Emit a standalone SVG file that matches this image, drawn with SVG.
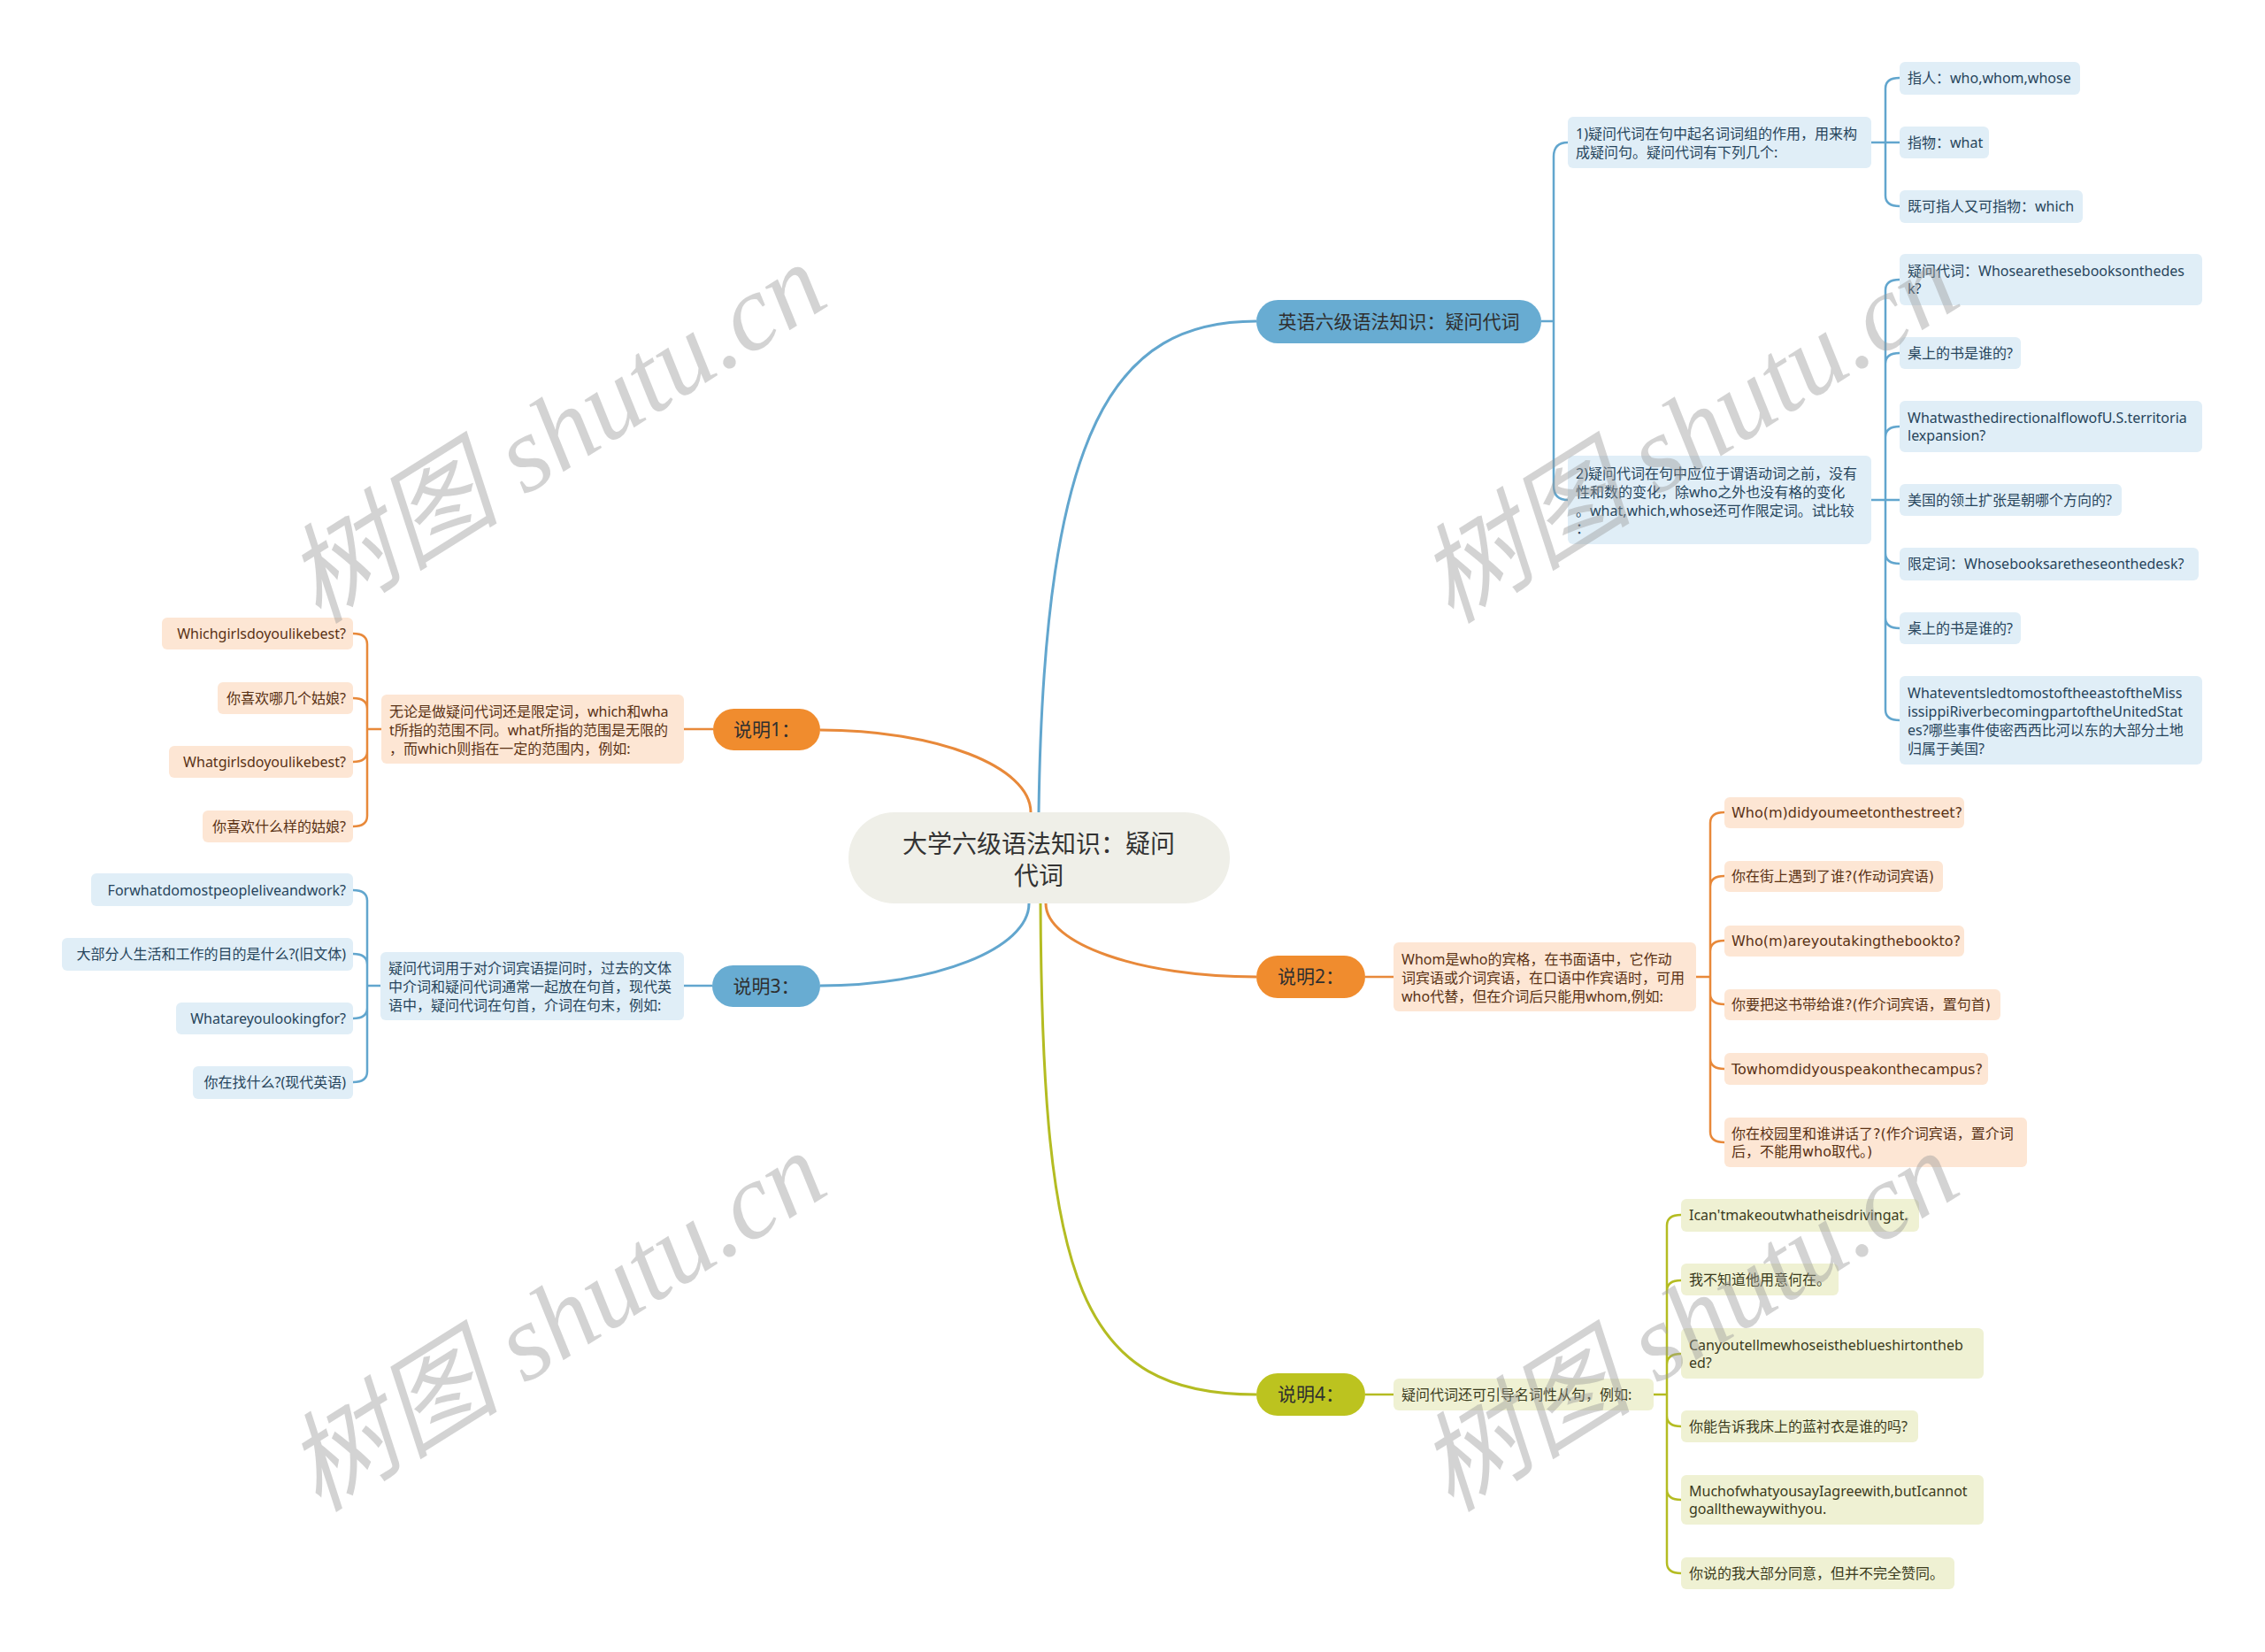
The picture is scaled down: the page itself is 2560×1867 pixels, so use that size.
<svg xmlns="http://www.w3.org/2000/svg" width="2560" height="1867" viewBox="0 0 2560 1867">
<style>
text{font-family:"Noto Sans","Noto Sans CJK SC",sans-serif;font-size:16px}
.bb{fill:#e0eef7}.ob{fill:#fde6d4}.gb{fill:#eff1d3}
.tb{fill:#27455c}.to{fill:#5a3214}.tg{fill:#3b3b1c}
.dv{font-family:"DejaVu Sans","Noto Sans CJK SC",sans-serif}
.end{text-anchor:end}
.nt{font-size:21px;fill:#2f2f2f;text-anchor:middle}
.cb{fill:none;stroke:#62a6ce;stroke-width:2.5}
.co{fill:none;stroke:#e8893a;stroke-width:2.5}
.cg{fill:none;stroke:#b4bc22;stroke-width:2.5}
.main{stroke-width:3}
.wm{font-family:"Liberation Serif","Noto Sans CJK SC",serif;font-style:italic;font-size:122px;fill:#999;opacity:.42}
</style>
<rect width="2560" height="1867" fill="#fff"/>
<g id="connectors">
<path class="cb main" d="M1174,918 C1180,480 1260,363 1420,363"/>
<path class="co main" d="M1165,918 C1165,866 1058,825 927,825"/>
<path class="co main" d="M1182,1021 C1182,1067 1289,1104 1420,1104"/>
<path class="cb main" d="M1163,1021 C1163,1072 1057,1114 927,1114"/>
<path class="cg main" d="M1176,1021 C1178,1450 1220,1576 1420,1576"/>
<path class="cb" d="M1742,363 H1756 V177 Q1756,161 1772,161 M1756,363 V549 Q1756,565 1772,565"/>
<path class="cb" d="M2115,161 H2131 V100 Q2131,88 2147,88 M2131,161 H2147 M2131,161 V221 Q2131,233 2147,233"/>
<path class="cb" d="M2115,565 H2131 V328 Q2131,316 2147,316 M2131,565 V411 Q2131,399 2147,399 M2131,565 V494 Q2131,482 2147,482 M2131,565 H2147 M2131,565 V625 Q2131,637 2147,637 M2131,565 V698 Q2131,710 2147,710 M2131,565 V802 Q2131,814 2147,814"/>
<path class="co" d="M1543,1104 H1575 M1917,1104 H1933 V930 Q1933,918 1949,918 M1933,1104 V1002 Q1933,990 1949,990 M1933,1104 V1075 Q1933,1063 1949,1063 M1933,1104 V1123 Q1933,1135 1949,1135 M1933,1104 V1196 Q1933,1208 1949,1208 M1933,1104 V1279 Q1933,1291 1949,1291"/>
<path class="co" d="M806,824 H773 M431,824 H415 V728 Q415,716 399,716 M415,824 V801 Q415,789 399,789 M415,824 V849 Q415,861 399,861 M415,824 V922 Q415,934 399,934"/>
<path class="cb" d="M805,1114 H773 M430,1114 H415 V1018 Q415,1006 399,1006 M415,1114 V1090 Q415,1078 399,1078 M415,1114 V1139 Q415,1151 399,1151 M415,1114 V1211 Q415,1223 399,1223"/>
<path class="cg" d="M1543,1576 H1575 M1869,1576 H1884 V1385 Q1884,1373 1900,1373 M1884,1576 V1459 Q1884,1447 1900,1447 M1884,1576 V1542 Q1884,1530 1900,1530 M1884,1576 V1600 Q1884,1612 1900,1612 M1884,1576 V1683 Q1884,1695 1900,1695 M1884,1576 V1766 Q1884,1778 1900,1778"/>
</g>
<g id="root">
<rect x="959" y="918" width="431" height="103" rx="51.5" fill="#efefe8"/>
<text x="1174" y="964" fill="#333" text-anchor="middle" style="font-size:28px">大学六级语法知识：疑问</text>
<text x="1174" y="1000" fill="#333" text-anchor="middle" style="font-size:28px">代词</text>
</g>
<g id="n-yingyu">
<rect x="1420" y="339" width="322" height="49" rx="24.5" fill="#68acd2"/>
<text class="nt" x="1581" y="371">英语六级语法知识：疑问代词</text>
</g>
<g id="n-b1">
<rect class="bb" x="1772" y="132" width="343" height="58" rx="6"/>
<text class="tb" x="1781" y="157">1)疑问代词在句中起名词词组的作用，用来构</text>
<text class="tb" x="1781" y="178">成疑问句。疑问代词有下列几个:</text>
</g>
<g id="n-b1a"><rect class="bb" x="2147" y="70" width="204" height="37" rx="6"/><text class="tb" x="2156" y="94">指人：who,whom,whose</text></g>
<g id="n-b1b"><rect class="bb" x="2147" y="143" width="101" height="36" rx="6"/><text class="tb" x="2156" y="167">指物：what</text></g>
<g id="n-b1c"><rect class="bb" x="2147" y="215" width="207" height="37" rx="6"/><text class="tb" x="2156" y="239">既可指人又可指物：which</text></g>
<g id="n-b2">
<rect class="bb" x="1772" y="515" width="343" height="100" rx="6"/>
<text class="tb" x="1781" y="541">2)疑问代词在句中应位于谓语动词之前，没有</text>
<text class="tb" x="1781" y="562">性和数的变化，除who之外也没有格的变化</text>
<text class="tb" x="1781" y="583">。what,which,whose还可作限定词。试比较</text>
<text class="tb" x="1781" y="603">：</text>
</g>
<g id="n-b2a"><rect class="bb" x="2147" y="287" width="342" height="58" rx="6"/><text class="tb" x="2156" y="312">疑问代词：Whosearethesebooksonthedes</text><text class="tb" x="2156" y="332">k?</text></g>
<g id="n-b2b"><rect class="bb" x="2147" y="381" width="137" height="36" rx="6"/><text class="tb" x="2156" y="405">桌上的书是谁的?</text></g>
<g id="n-b2c"><rect class="bb" x="2147" y="453" width="342" height="58" rx="6"/><text class="tb" x="2156" y="478">WhatwasthedirectionalflowofU.S.territoria</text><text class="tb" x="2156" y="498">lexpansion?</text></g>
<g id="n-b2d"><rect class="bb" x="2147" y="547" width="251" height="36" rx="6"/><text class="tb" x="2156" y="571">美国的领土扩张是朝哪个方向的?</text></g>
<g id="n-b2e"><rect class="bb" x="2147" y="619" width="338" height="37" rx="6"/><text class="tb" x="2156" y="643">限定词：Whosebooksaretheseonthedesk?</text></g>
<g id="n-b2f"><rect class="bb" x="2147" y="692" width="137" height="36" rx="6"/><text class="tb" x="2156" y="716">桌上的书是谁的?</text></g>
<g id="n-b2g"><rect class="bb" x="2147" y="764" width="342" height="100" rx="6"/>
<text class="tb" x="2156" y="789">WhateventsledtomostoftheeastoftheMiss</text>
<text class="tb" x="2156" y="810">issippiRiverbecomingpartoftheUnitedStat</text>
<text class="tb" x="2156" y="831">es?哪些事件使密西西比河以东的大部分土地</text>
<text class="tb" x="2156" y="852">归属于美国?</text></g>
<g id="n-s2">
<rect x="1420" y="1080" width="123" height="48" rx="24" fill="#f08c2e"/>
<text class="nt" x="1481.5" y="1111">说明2：</text>
</g>
<g id="n-s2box"><rect class="ob" x="1575" y="1065" width="342" height="78" rx="6"/>
<text class="to" x="1584" y="1090">Whom是who的宾格，在书面语中，它作动</text>
<text class="to" x="1584" y="1111">词宾语或介词宾语，在口语中作宾语时，可用</text>
<text class="to" x="1584" y="1132">who代替，但在介词后只能用whom,例如:</text></g>
<g id="n-s2a"><rect class="ob" x="1949" y="901" width="271" height="35" rx="6"/><text class="to dv" x="1957" y="924">Who(m)didyoumeetonthestreet?</text></g>
<g id="n-s2b"><rect class="ob" x="1949" y="973" width="247" height="35" rx="6"/><text class="to dv" x="1957" y="996">你在街上遇到了谁?(作动词宾语)</text></g>
<g id="n-s2c"><rect class="ob" x="1949" y="1046" width="271" height="35" rx="6"/><text class="to dv" x="1957" y="1069">Who(m)areyoutakingthebookto?</text></g>
<g id="n-s2d"><rect class="ob" x="1949" y="1118" width="312" height="35" rx="6"/><text class="to dv" x="1957" y="1141">你要把这书带给谁?(作介词宾语，置句首)</text></g>
<g id="n-s2e"><rect class="ob" x="1949" y="1190" width="298" height="36" rx="6"/><text class="to dv" x="1957" y="1214">Towhomdidyouspeakonthecampus?</text></g>
<g id="n-s2f"><rect class="ob" x="1949" y="1263" width="342" height="56" rx="6"/><text class="to dv" x="1957" y="1287">你在校园里和谁讲话了?(作介词宾语，置介词</text><text class="to dv" x="1957" y="1307">后，不能用who取代。)</text></g>
<g id="n-s1">
<rect x="806" y="801" width="121" height="47" rx="23.5" fill="#f08c2e"/>
<text class="nt" x="866.5" y="832">说明1：</text>
</g>
<g id="n-s1box"><rect class="ob" x="431" y="785" width="342" height="78" rx="6"/>
<text class="to" x="440" y="810">无论是做疑问代词还是限定词，which和wha</text>
<text class="to" x="440" y="831">t所指的范围不同。what所指的范围是无限的</text>
<text class="to" x="440" y="852">，而which则指在一定的范围内，例如:</text></g>
<g id="n-s1a"><rect class="ob" x="183" y="698" width="216" height="36" rx="6"/><text class="to end" x="391" y="722">Whichgirlsdoyoulikebest?</text></g>
<g id="n-s1b"><rect class="ob" x="246" y="771" width="153" height="36" rx="6"/><text class="to end" x="391" y="795">你喜欢哪几个姑娘?</text></g>
<g id="n-s1c"><rect class="ob" x="191" y="843" width="208" height="36" rx="6"/><text class="to end" x="391" y="867">Whatgirlsdoyoulikebest?</text></g>
<g id="n-s1d"><rect class="ob" x="229" y="916" width="170" height="36" rx="6"/><text class="to end" x="391" y="940">你喜欢什么样的姑娘?</text></g>
<g id="n-s3">
<rect x="805" y="1091" width="122" height="47" rx="23.5" fill="#68acd2"/>
<text class="nt" x="866" y="1122">说明3：</text>
</g>
<g id="n-s3box"><rect class="bb" x="430" y="1076" width="343" height="77" rx="6"/>
<text class="tb" x="439" y="1100">疑问代词用于对介词宾语提问时，过去的文体</text>
<text class="tb" x="439" y="1121">中介词和疑问代词通常一起放在句首，现代英</text>
<text class="tb" x="439" y="1142">语中，疑问代词在句首，介词在句末，例如:</text></g>
<g id="n-s3a"><rect class="bb" x="103" y="987" width="296" height="37" rx="6"/><text class="tb end" x="391" y="1012">Forwhatdomostpeopleliveandwork?</text></g>
<g id="n-s3b"><rect class="bb" x="70" y="1060" width="329" height="37" rx="6"/><text class="tb end" x="391" y="1084">大部分人生活和工作的目的是什么?(旧文体)</text></g>
<g id="n-s3c"><rect class="bb" x="199" y="1133" width="200" height="36" rx="6"/><text class="tb end" x="391" y="1157">Whatareyoulookingfor?</text></g>
<g id="n-s3d"><rect class="bb" x="218" y="1205" width="181" height="37" rx="6"/><text class="tb end" x="391" y="1229">你在找什么?(现代英语)</text></g>
<g id="n-s4">
<rect x="1420" y="1552" width="123" height="48" rx="24" fill="#bcc31f"/>
<text class="nt" x="1481.5" y="1583">说明4：</text>
</g>
<g id="n-s4box"><rect class="gb" x="1575" y="1558" width="294" height="36" rx="6"/><text class="tg" x="1584" y="1582">疑问代词还可引导名词性从句，例如:</text></g>
<g id="n-s4a"><rect class="gb" x="1900" y="1355" width="269" height="37" rx="6"/><text class="tg" x="1909" y="1379">Ican'tmakeoutwhatheisdrivingat.</text></g>
<g id="n-s4b"><rect class="gb" x="1900" y="1428" width="178" height="36" rx="6"/><text class="tg" x="1909" y="1452">我不知道他用意何在。</text></g>
<g id="n-s4c"><rect class="gb" x="1900" y="1501" width="342" height="57" rx="6"/><text class="tg" x="1909" y="1526">Canyoutellmewhoseistheblueshirtontheb</text><text class="tg" x="1909" y="1546">ed?</text></g>
<g id="n-s4d"><rect class="gb" x="1900" y="1594" width="268" height="36" rx="6"/><text class="tg" x="1909" y="1618">你能告诉我床上的蓝衬衣是谁的吗?</text></g>
<g id="n-s4e"><rect class="gb" x="1900" y="1667" width="342" height="56" rx="6"/><text class="tg" x="1909" y="1691">MuchofwhatyousayIagreewith,butIcannot</text><text class="tg" x="1909" y="1711">goallthewaywithyou.</text></g>
<g id="n-s4f"><rect class="gb" x="1900" y="1760" width="309" height="36" rx="6"/><text class="tg" x="1909" y="1784">你说的我大部分同意，但并不完全赞同。</text></g>
<g id="watermarks">
<text class="wm" transform="translate(360,706) rotate(-32)">树图 shutu.cn</text>
<text class="wm" transform="translate(1640,706) rotate(-32)">树图 shutu.cn</text>
<text class="wm" transform="translate(360,1710) rotate(-32)">树图 shutu.cn</text>
<text class="wm" transform="translate(1640,1710) rotate(-32)">树图 shutu.cn</text>
</g>
</svg>
